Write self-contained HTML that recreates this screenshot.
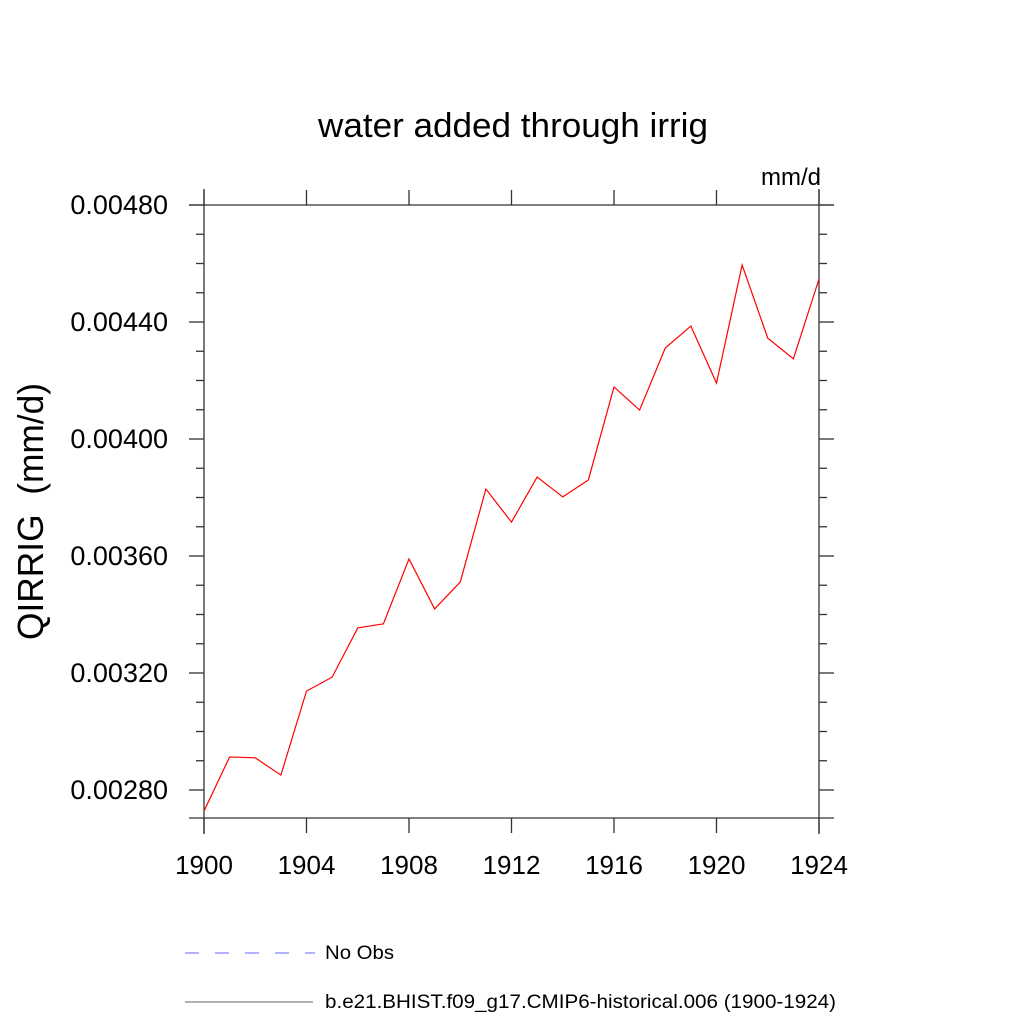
<!DOCTYPE html>
<html><head><meta charset="utf-8"><style>body{margin:0;background:#fff}svg{display:block}</style></head>
<body>
<svg id="chart" width="1024" height="1024" xmlns="http://www.w3.org/2000/svg" font-family="Liberation Sans, sans-serif">
<text x="318" y="137" font-size="34" textLength="390" lengthAdjust="spacingAndGlyphs">water added through irrig</text>
<text x="821" y="185" font-size="24" text-anchor="end">mm/d</text>
<text transform="translate(43,640) rotate(-90)" font-size="36" textLength="257" lengthAdjust="spacingAndGlyphs">QIRRIG&#160;&#160;(mm/d)</text>
<g id="axes"></g>
<polyline id="series" fill="none" stroke="#ff0000" stroke-width="1.2"/>
<line x1="185" y1="953" x2="315" y2="953" stroke="#6666ff" stroke-width="1" stroke-dasharray="14,16"/>
<text x="325" y="959" font-size="19" textLength="69" lengthAdjust="spacingAndGlyphs">No Obs</text>
<line x1="185" y1="1002" x2="313" y2="1002" stroke="#666" stroke-width="1"/>
<text x="325" y="1008" font-size="19" textLength="511" lengthAdjust="spacingAndGlyphs">b.e21.BHIST.f09_g17.CMIP6-historical.006 (1900-1924)</text>
</svg>
<script>
const years = [1900,1901,1902,1903,1904,1905,1906,1907,1908,1909,1910,1911,1912,1913,1914,1915,1916,1917,1918,1919,1920,1921,1922,1923,1924];
const values = [0.002728,0.002913,0.002910,0.002851,0.003138,0.003186,0.003354,0.003368,0.003590,0.003419,0.003511,0.003829,0.003716,0.003870,0.003802,0.003860,0.004178,0.004099,0.004311,0.004386,0.004191,0.004595,0.004345,0.004274,0.004547];
const yTicks = [0.0028,0.0032,0.0036,0.0040,0.0044,0.0048];
const yTickLabels = ["0.00280","0.00320","0.00360","0.00400","0.00440","0.00480"];
const xTicks = [1900,1904,1908,1912,1916,1920,1924];

const L=204,R=819,T=205,B=818;
const xMin=1900,xMax=1924,yMin=0.0048-(B-T)/117*0.0004,yMax=0.0048;
const sx=v=>L+(v-xMin)/(xMax-xMin)*(R-L);
const sy=v=>B-(v-yMin)/(yMax-yMin)*(B-T);
const NS="http://www.w3.org/2000/svg";
const g=document.getElementById('axes');
function ln(x1,y1,x2,y2,name){const e=document.createElementNS(NS,'line');
e.setAttribute('x1',x1);e.setAttribute('y1',y1);e.setAttribute('x2',x2);e.setAttribute('y2',y2);
e.setAttribute('stroke','#333');e.setAttribute('stroke-width','1.3');


g.appendChild(e);}
function tx(x,y,s,anchor,size,name){const e=document.createElementNS(NS,'text');
e.setAttribute('x',x);e.setAttribute('y',y);e.setAttribute('font-size',size);e.setAttribute('text-anchor',anchor);e.textContent=s;


g.appendChild(e);}
ln(L,189,L,834,'left-axis');ln(R,189,R,834,'right-axis');
ln(189,T,834,T,'top-axis');ln(189,B,834,B,'bottom-axis');
for(let k=28;k<=48;k++){const v=k/10000;const y=sy(v);
const major=(k%4===0);const len=major?15:8;ln(L-len,y,L,y,'y-tick');ln(R,y,R+len,y,'y-tick-right');}
yTicks.forEach((v,i)=>tx(168,sy(v)+9,yTickLabels[i],'end','27','y-tick-label'));
xTicks.forEach(v=>{const x=sx(v);ln(x,B,x,B+15,'x-tick');ln(x,T-15,x,T,'x-tick-top');});
xTicks.forEach(v=>tx(sx(v),874,String(v),'middle','26','x-tick-label'));
document.getElementById('series').setAttribute('points',years.map((y,i)=>sx(y)+','+sy(values[i])).join(' '));
</script>
</body></html>
